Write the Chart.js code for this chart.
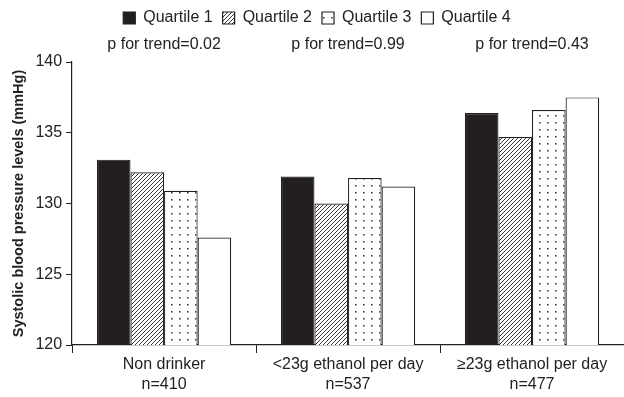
<!DOCTYPE html>
<html>
<head>
<meta charset="utf-8">
<script src="https://cdn.jsdelivr.net/npm/chart.js@4.4.0/dist/chart.umd.min.js"></script>
<style>
  html, body { margin: 0; padding: 0; background: #fff; }
  #wrap { width: 624px; height: 397px; }
</style>
</head>
<body>
<div id="wrap"><canvas id="bp"></canvas></div>
<script>
var groups = [['Non drinker', 'n=410'], ['<23g ethanol per day', 'n=537'], ['\u226523g ethanol per day', 'n=477']];
var trendLabels = ['p for trend=0.02', 'p for trend=0.99', 'p for trend=0.43'];
var quartiles = ['Quartile 1', 'Quartile 2', 'Quartile 3', 'Quartile 4'];
var q1 = [133.1, 131.9, 136.4];
var q2 = [132.2, 130.0, 134.7];
var q3 = [130.9, 131.8, 136.6];
var q4 = [127.6, 131.2, 137.5];

function hatch(){
  var c = document.createElement('canvas');
  c.width = 4; c.height = 4;
  var g = c.getContext('2d');
  g.fillStyle = '#fff';
  g.fillRect(0, 0, 4, 4);
  g.strokeStyle = '#333';
  g.lineWidth = 1;
  g.beginPath();
  g.moveTo(-1, 5); g.lineTo(5, -1);
  g.moveTo(-1, 1); g.lineTo(1, -1);
  g.moveTo(3, 5); g.lineTo(5, 3);
  g.stroke();
  return g.createPattern(c, 'repeat');
}

function dots(){
  var c = document.createElement('canvas');
  c.width = 8; c.height = 7;
  var g = c.getContext('2d');
  g.fillStyle = '#fff';
  g.fillRect(0, 0, 8, 7);
  g.fillStyle = '#444';
  g.fillRect(3, 3, 1.6, 1.6);
  return g.createPattern(c, 'repeat');
}

function init(){
  Chart.defaults.font.family = '"Liberation Sans", Arial, sans-serif';
  Chart.defaults.font.size = 16;
  Chart.defaults.color = '#222';

  var fills = ['#231f20', hatch(), dots(), '#ffffff'];
  var values = [q1, q2, q3, q4];

  var ctx = document.getElementById('bp').getContext('2d');
  var chart = new Chart(ctx, {
    type: 'bar',
    data: {
      labels: groups,
      datasets: quartiles.map(function(q, i){
        return {
          label: q,
          data: values[i],
          backgroundColor: fills[i],
          borderColor: '#231f20',
          borderWidth: 1.2,
          borderSkipped: 'bottom',
          barPercentage: 1,
          categoryPercentage: 0.73
        };
      })
    },
    options: {
      responsive: true,
      maintainAspectRatio: false,
      animation: false,
      layout: { padding: { top: 0, right: 0, left: 10, bottom: 0 } },
      plugins: {
        legend: {
          labels: { boxWidth: 12, boxHeight: 12, padding: 10, color: '#222' }
        },
        tooltip: { enabled: false }
      },
      scales: {
        x: {
          grid: { display: true, drawOnChartArea: false, offset: true, color: '#231f20', tickLength: 8 },
          border: { color: '#231f20', width: 1.2 },
          ticks: { padding: 2, font: { lineHeight: 1.25 } }
        },
        x2: {
          type: 'category',
          position: 'top',
          labels: trendLabels,
          offset: true,
          grid: { display: false },
          border: { display: false },
          ticks: { padding: 1, font: { lineHeight: 1.0 } }
        },
        y: {
          min: 120,
          max: 140,
          ticks: { stepSize: 5, padding: 4 },
          grid: { display: true, drawOnChartArea: false, color: '#231f20', tickLength: 6 },
          border: { color: '#231f20', width: 1.2 },
          title: {
            display: true,
            text: 'Systolic blood pressure levels (mmHg)',
            font: { weight: 'bold', size: 14.5 },
            padding: { top: 0, bottom: 4 }
          }
        }
      }
    }
  });
}

init();
</script>
</body>
</html>
